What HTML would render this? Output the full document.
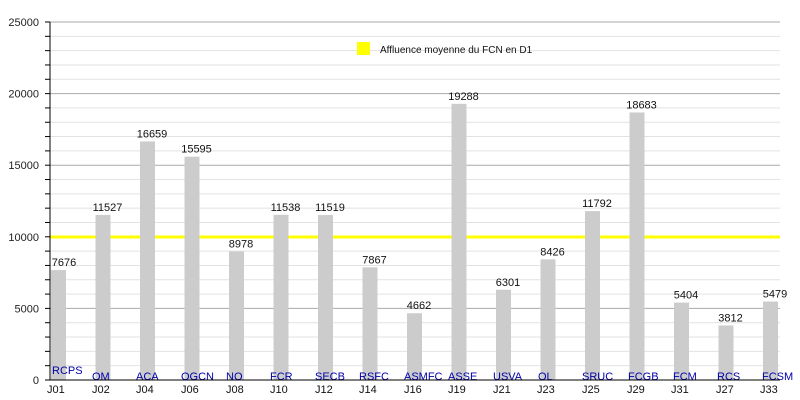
<!DOCTYPE html>
<html><head><meta charset="utf-8"><style>
body{margin:0;background:#fff;}
svg{display:block;font-family:"Liberation Sans",sans-serif;}
</style></head><body>
<svg width="800" height="400" xmlns="http://www.w3.org/2000/svg">
<g stroke="#e2e2e2">
<line x1="50" y1="365.68" x2="780" y2="365.68"/><line x1="50" y1="351.36" x2="780" y2="351.36"/><line x1="50" y1="337.04" x2="780" y2="337.04"/><line x1="50" y1="322.72" x2="780" y2="322.72"/>
<line x1="50" y1="294.08" x2="780" y2="294.08"/><line x1="50" y1="279.76" x2="780" y2="279.76"/><line x1="50" y1="265.44" x2="780" y2="265.44"/><line x1="50" y1="251.12" x2="780" y2="251.12"/>
<line x1="50" y1="222.48" x2="780" y2="222.48"/><line x1="50" y1="208.16" x2="780" y2="208.16"/><line x1="50" y1="193.84" x2="780" y2="193.84"/><line x1="50" y1="179.52" x2="780" y2="179.52"/>
<line x1="50" y1="150.88" x2="780" y2="150.88"/><line x1="50" y1="136.56" x2="780" y2="136.56"/><line x1="50" y1="122.24" x2="780" y2="122.24"/><line x1="50" y1="107.92" x2="780" y2="107.92"/>
<line x1="50" y1="79.28" x2="780" y2="79.28"/><line x1="50" y1="64.96" x2="780" y2="64.96"/><line x1="50" y1="50.64" x2="780" y2="50.64"/><line x1="50" y1="36.32" x2="780" y2="36.32"/>
</g>
<g stroke="#aaa">
<line x1="50" y1="308.4" x2="780" y2="308.4"/><line x1="50" y1="236.8" x2="780" y2="236.8"/><line x1="50" y1="165.2" x2="780" y2="165.2"/><line x1="50" y1="93.6" x2="780" y2="93.6"/><line x1="50" y1="22" x2="780" y2="22"/>
</g>
<g stroke="#000">
<line x1="45" y1="365.68" x2="50" y2="365.68"/><line x1="45" y1="351.36" x2="50" y2="351.36"/><line x1="45" y1="337.04" x2="50" y2="337.04"/><line x1="45" y1="322.72" x2="50" y2="322.72"/><line x1="45" y1="308.4" x2="50" y2="308.4"/>
<line x1="45" y1="294.08" x2="50" y2="294.08"/><line x1="45" y1="279.76" x2="50" y2="279.76"/><line x1="45" y1="265.44" x2="50" y2="265.44"/><line x1="45" y1="251.12" x2="50" y2="251.12"/><line x1="45" y1="236.8" x2="50" y2="236.8"/>
<line x1="45" y1="222.48" x2="50" y2="222.48"/><line x1="45" y1="208.16" x2="50" y2="208.16"/><line x1="45" y1="193.84" x2="50" y2="193.84"/><line x1="45" y1="179.52" x2="50" y2="179.52"/><line x1="45" y1="165.2" x2="50" y2="165.2"/>
<line x1="45" y1="150.88" x2="50" y2="150.88"/><line x1="45" y1="136.56" x2="50" y2="136.56"/><line x1="45" y1="122.24" x2="50" y2="122.24"/><line x1="45" y1="107.92" x2="50" y2="107.92"/><line x1="45" y1="93.6" x2="50" y2="93.6"/>
<line x1="45" y1="79.28" x2="50" y2="79.28"/><line x1="45" y1="64.96" x2="50" y2="64.96"/><line x1="45" y1="50.64" x2="50" y2="50.64"/><line x1="45" y1="36.32" x2="50" y2="36.32"/><line x1="45" y1="22" x2="50" y2="22"/>
</g>
<g font-size="11" text-anchor="end" fill="#222">
<text x="39" y="384">0</text><text x="39" y="312.4">5000</text><text x="39" y="240.8">10000</text><text x="39" y="169.2">15000</text><text x="39" y="97.6">20000</text><text x="39" y="26">25000</text>
</g>
<line x1="50" y1="237" x2="780" y2="237" stroke="#ffff00" stroke-width="3"/>
<g fill="#cccccc">
<rect x="51" y="270.08" width="15" height="109.92"/>
<rect x="95.5" y="214.93" width="15" height="165.07"/>
<rect x="140" y="141.44" width="15" height="238.56"/>
<rect x="184.5" y="156.68" width="15" height="223.32"/>
<rect x="229" y="251.44" width="15" height="128.56"/>
<rect x="273.5" y="214.78" width="15" height="165.22"/>
<rect x="318" y="215.05" width="15" height="164.95"/>
<rect x="362.5" y="267.34" width="15" height="112.66"/>
<rect x="407" y="313.24" width="15" height="66.76"/>
<rect x="451.5" y="103.8" width="15" height="276.2"/>
<rect x="496" y="289.77" width="15" height="90.23"/>
<rect x="540.5" y="259.34" width="15" height="120.66"/>
<rect x="585" y="211.14" width="15" height="168.86"/>
<rect x="629.5" y="112.46" width="15" height="267.54"/>
<rect x="674" y="302.61" width="15" height="77.39"/>
<rect x="718.5" y="325.41" width="15" height="54.59"/>
<rect x="763" y="301.54" width="15" height="78.46"/>
</g>
<g font-size="11" text-anchor="middle" fill="#111">
<text x="64" y="266">7676</text>
<text x="107.5" y="211">11527</text>
<text x="152" y="137.5">16659</text>
<text x="196.5" y="152.7">15595</text>
<text x="241" y="247.5">8978</text>
<text x="285.5" y="210.8">11538</text>
<text x="330" y="211">11519</text>
<text x="374.5" y="263.3">7867</text>
<text x="419" y="309.2">4662</text>
<text x="463.5" y="99.8">19288</text>
<text x="508" y="285.8">6301</text>
<text x="552.5" y="255.3">8426</text>
<text x="597" y="207.1">11792</text>
<text x="641.5" y="108.5">18683</text>
<text x="686" y="298.6">5404</text>
<text x="730.5" y="321.4">3812</text>
<text x="775" y="297.5">5479</text>
</g>
<g font-size="11" fill="#0000aa">
<text x="52" y="374">RCPS</text>
<text x="92" y="380">OM</text>
<text x="136" y="380">ACA</text>
<text x="181" y="380">OGCN</text>
<text x="226" y="380">NO</text>
<text x="270" y="380">FCR</text>
<text x="315" y="380">SECB</text>
<text x="359" y="380">RSFC</text>
<text x="404" y="380">ASMFC</text>
<text x="448" y="380">ASSE</text>
<text x="493" y="380">USVA</text>
<text x="538" y="380">OL</text>
<text x="582" y="380">SRUC</text>
<text x="628" y="380">FCGB</text>
<text x="673" y="380">FCM</text>
<text x="717" y="380">RCS</text>
<text x="762" y="380">FCSM</text>
</g>
<g font-size="11" fill="#111">
<text x="47" y="393">J01</text><text x="92" y="393">J02</text><text x="136" y="393">J04</text><text x="181" y="393">J06</text><text x="226" y="393">J08</text><text x="270" y="393">J10</text><text x="315" y="393">J12</text><text x="359" y="393">J14</text><text x="404" y="393">J16</text><text x="448" y="393">J19</text><text x="493" y="393">J21</text><text x="537" y="393">J23</text><text x="582" y="393">J25</text><text x="627" y="393">J29</text><text x="671" y="393">J31</text><text x="716" y="393">J27</text><text x="760" y="393">J33</text>
</g>
<line x1="50" y1="22" x2="50" y2="380" stroke="#000"/>
<line x1="45" y1="380" x2="780" y2="380" stroke="#000"/>
<rect x="357" y="42" width="13" height="13" fill="#ffff00"/>
<text x="380" y="53" font-size="10" fill="#111">Affluence moyenne du FCN en D1</text>
</svg>
</body></html>
